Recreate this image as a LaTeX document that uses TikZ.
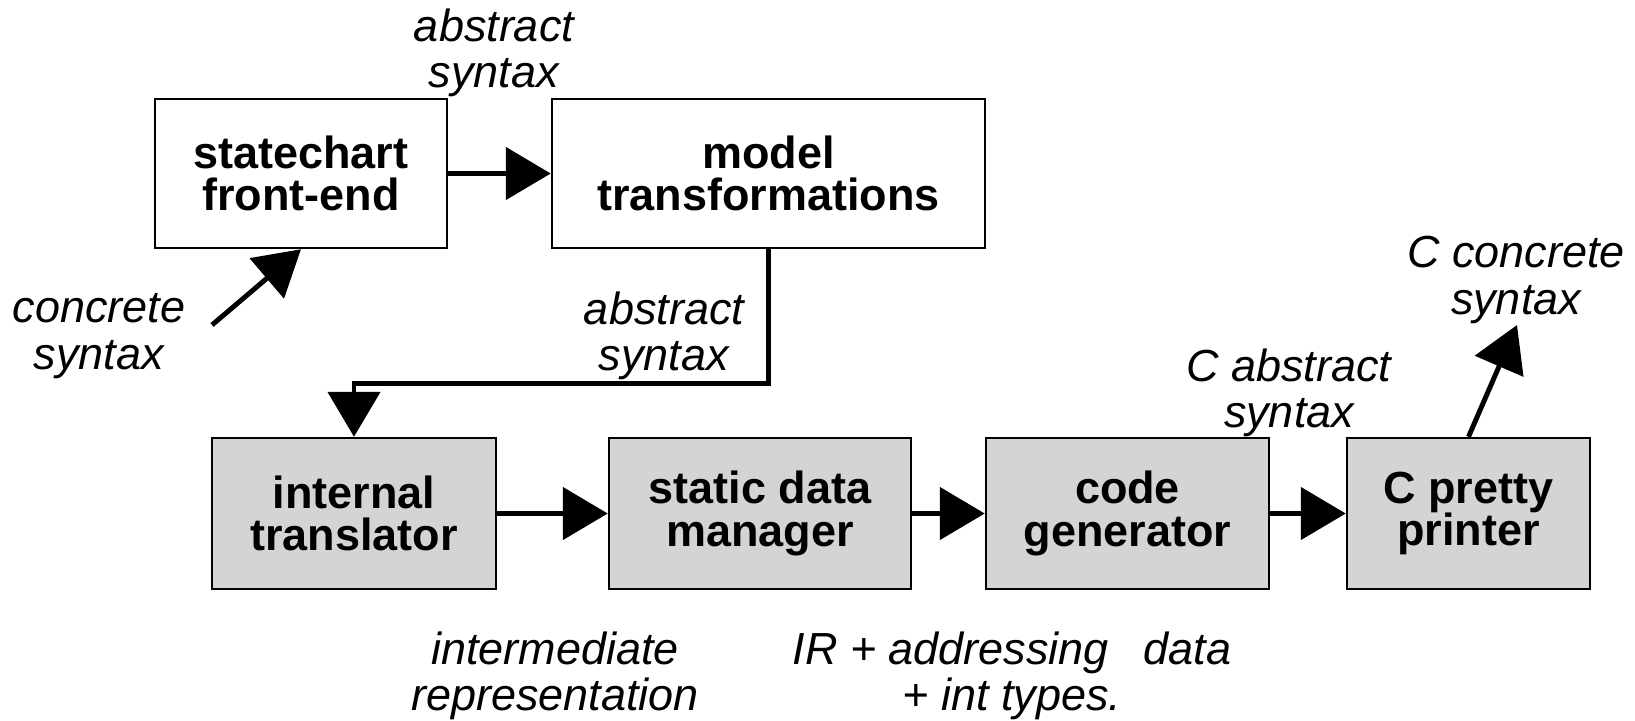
\documentclass[tikz,border=0pt]{standalone}
\usepackage{fontspec}
\setmainfont{Liberation Sans}
\usetikzlibrary{arrows.meta}

\begin{document}
\begin{tikzpicture}[x=0.1mm,y=-0.1mm,
    box/.style={draw,line width=0.7pt,align=center,inner sep=0pt,
      font=\fontsize{12.8pt}{12.1pt}\selectfont\bfseries},
    greybox/.style={box,fill=black!17},
    lbl/.style={align=center,inner sep=0pt,
      font=\fontsize{12.8pt}{13.2pt}\selectfont\itshape},
    flow/.style={line width=1.4pt,-{Triangle[length=4.5mm,width=5.2mm]}}]
      \useasboundingbox (0,0) rectangle (1635,720);

      % upper row
      \node[box,minimum width=29.2mm,minimum height=14.9mm] (front) at (301,173.5) {statechart\\front-end};
      \node[box,minimum width=43.3mm,minimum height=14.9mm] (model) at (768.5,173.5) {model\\transformations};

      % lower row
      \node[greybox,minimum width=28.4mm,minimum height=15.1mm] (internal) at (354,513.5) {internal\\translator};
      \node[greybox,minimum width=30.2mm,minimum height=15.1mm] (static) at (760,513.5) {static data\\manager};
      \node[greybox,minimum width=28.3mm,minimum height=15.1mm] (codegen) at (1127.5,513.5) {code\\generator};
      \node[greybox,minimum width=24.3mm,minimum height=15.1mm] (pretty) at (1468.5,513.5) {C pretty\\printer};

      % labels
      \node[lbl] (absTop) at (494,53) {abstract\\syntax};
      \node[lbl] (concIn) at (99,336) {concrete\\syntax};
      \node[lbl] (absMid) at (664,336) {abstract\\syntax};
      \node[lbl] (cAbs) at (1289,393) {C abstract\\syntax};
      \node[lbl] (cConc) at (1516,280) {C concrete\\syntax};
      \node[lbl] (ir) at (555,676) {intermediate\\representation};
      \node[lbl] (irAddr) at (1012,676) {IR + addressing\hspace{3.5mm}data\\+ int types.};

      \coordinate (srcIn) at (212,325);
      \coordinate (outC) at (1517,325);

      % connectors
      \draw[flow] (srcIn) -- (front.south);
      \draw[flow] (front.east) -- (model.west);
      \draw[flow] (model.south) -- ++(0,134) -| (internal.north);
      \draw[flow] (internal.east) -- (static.west);
      \draw[flow] (static.east) -- (codegen.west);
      \draw[flow] (codegen.east) -- (pretty.west);
      \draw[flow] (pretty.north) -- (outC);
    \end{tikzpicture}
\end{document}
